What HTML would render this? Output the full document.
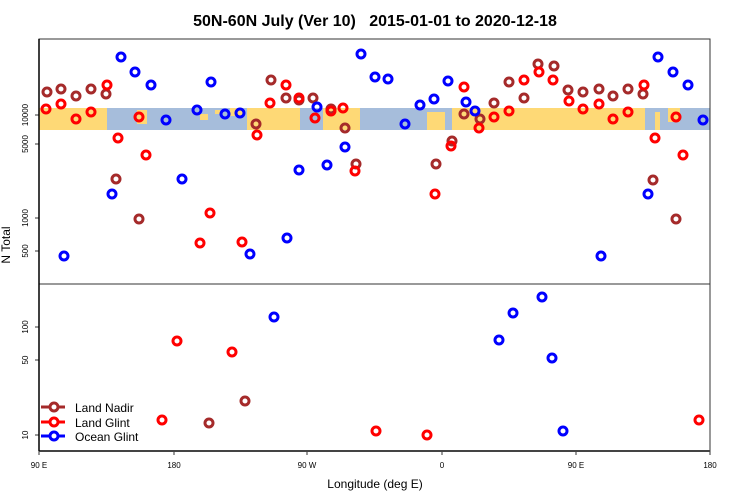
<!DOCTYPE html>
<html><head><meta charset="utf-8"><style>body{margin:0;background:#fff}svg{display:block}text{font-family:"Liberation Sans",sans-serif}</style></head>
<body>
<svg width="750" height="500" xmlns="http://www.w3.org/2000/svg">
<rect width="750" height="500" fill="#fff"/>
<text x="375" y="26" font-size="16" font-weight="bold" text-anchor="middle">50N-60N July (Ver 10)&#160;&#160; 2015-01-01 to 2020-12-18</text>
<rect x="39" y="108" width="671" height="22" fill="#a6bddb"/>
<g fill="#fed976">
<rect x="39" y="108" width="68" height="22"/>
<rect x="137" y="110" width="10" height="14"/>
<rect x="200" y="114" width="8" height="6"/><rect x="215" y="110" width="5" height="4"/><rect x="230" y="108" width="13" height="8"/>
<rect x="247" y="108" width="53" height="22"/>
<rect x="323" y="108" width="37" height="22"/>
<rect x="427" y="112" width="18" height="18"/>
<rect x="452" y="108" width="193" height="22"/>
<rect x="655" y="112" width="5" height="18"/><rect x="668" y="108" width="12" height="14"/>
</g>
<g stroke="#333" fill="none" stroke-width="1">
<rect x="39" y="39" width="671" height="412"/>
<line x1="39" y1="284" x2="710" y2="284"/>
<line x1="35" y1="115" x2="39" y2="115"/><line x1="35" y1="144" x2="39" y2="144"/><line x1="35" y1="218" x2="39" y2="218"/><line x1="35" y1="251" x2="39" y2="251"/>
<line x1="35" y1="327" x2="39" y2="327"/><line x1="35" y1="360" x2="39" y2="360"/><line x1="35" y1="435" x2="39" y2="435"/>
<line x1="39" y1="451" x2="39" y2="455"/><line x1="174" y1="451" x2="174" y2="455"/><line x1="307" y1="451" x2="307" y2="455"/><line x1="442" y1="451" x2="442" y2="455"/><line x1="576" y1="451" x2="576" y2="455"/><line x1="710" y1="451" x2="710" y2="455"/>
</g>
<line x1="39" y1="451" x2="710" y2="451" stroke="#444" stroke-width="2"/>
<line x1="39" y1="39" x2="39" y2="451" stroke="#000" stroke-width="1.5"/>
<g font-size="8" text-anchor="middle">
<text transform="translate(28,115) rotate(-90)">10000</text>
<text transform="translate(28,144) rotate(-90)">5000</text>
<text transform="translate(28,218) rotate(-90)">1000</text>
<text transform="translate(28,251) rotate(-90)">500</text>
<text transform="translate(28,327) rotate(-90)">100</text>
<text transform="translate(28,360) rotate(-90)">50</text>
<text transform="translate(28,435) rotate(-90)">10</text>
<text x="39" y="468">90 E</text><text x="174" y="468">180</text><text x="307" y="468">90 W</text><text x="442" y="468">0</text><text x="576" y="468">90 E</text><text x="710" y="468">180</text>
</g>
<text x="375" y="488" font-size="12" text-anchor="middle">Longitude (deg E)</text>
<text transform="translate(10,245) rotate(-90)" font-size="12" text-anchor="middle">N Total</text>
<g fill="none" stroke-width="3">
<g stroke="#a52a2a">
<circle cx="47" cy="92" r="4"/><circle cx="61" cy="89" r="4"/><circle cx="76" cy="96" r="4"/><circle cx="91" cy="89" r="4"/><circle cx="106" cy="94" r="4"/><circle cx="116" cy="179" r="4"/><circle cx="139" cy="219" r="4"/><circle cx="256" cy="124" r="4"/><circle cx="271" cy="80" r="4"/><circle cx="286" cy="98" r="4"/><circle cx="299" cy="100" r="4"/><circle cx="313" cy="98" r="4"/><circle cx="331" cy="109" r="4"/><circle cx="345" cy="128" r="4"/><circle cx="356" cy="164" r="4"/>
<circle cx="452" cy="141" r="4"/><circle cx="436" cy="164" r="4"/><circle cx="464" cy="114" r="4"/><circle cx="480" cy="119" r="4"/><circle cx="494" cy="103" r="4"/><circle cx="509" cy="82" r="4"/><circle cx="524" cy="98" r="4"/><circle cx="538" cy="64" r="4"/><circle cx="554" cy="66" r="4"/><circle cx="568" cy="90" r="4"/><circle cx="583" cy="92" r="4"/><circle cx="599" cy="89" r="4"/><circle cx="613" cy="96" r="4"/><circle cx="628" cy="89" r="4"/><circle cx="643" cy="94" r="4"/><circle cx="653" cy="180" r="4"/><circle cx="676" cy="219" r="4"/>
<circle cx="245" cy="401" r="4"/><circle cx="209" cy="423" r="4"/>
</g>
<g stroke="#f00">
<circle cx="46" cy="109" r="4"/><circle cx="61" cy="104" r="4"/><circle cx="76" cy="119" r="4"/><circle cx="91" cy="112" r="4"/><circle cx="107" cy="85" r="4"/><circle cx="118" cy="138" r="4"/><circle cx="139" cy="117" r="4"/><circle cx="146" cy="155" r="4"/><circle cx="210" cy="213" r="4"/><circle cx="200" cy="243" r="4"/><circle cx="242" cy="242" r="4"/><circle cx="257" cy="135" r="4"/><circle cx="270" cy="103" r="4"/><circle cx="286" cy="85" r="4"/><circle cx="299" cy="98" r="4"/><circle cx="315" cy="118" r="4"/><circle cx="331" cy="111" r="4"/><circle cx="343" cy="108" r="4"/><circle cx="355" cy="171" r="4"/>
<circle cx="451" cy="146" r="4"/><circle cx="435" cy="194" r="4"/><circle cx="464" cy="87" r="4"/><circle cx="479" cy="128" r="4"/><circle cx="494" cy="117" r="4"/><circle cx="509" cy="111" r="4"/><circle cx="524" cy="80" r="4"/><circle cx="539" cy="72" r="4"/><circle cx="553" cy="80" r="4"/><circle cx="569" cy="101" r="4"/><circle cx="583" cy="109" r="4"/><circle cx="599" cy="104" r="4"/><circle cx="613" cy="119" r="4"/><circle cx="628" cy="112" r="4"/><circle cx="644" cy="85" r="4"/><circle cx="655" cy="138" r="4"/><circle cx="676" cy="117" r="4"/><circle cx="683" cy="155" r="4"/>
<circle cx="177" cy="341" r="4"/><circle cx="232" cy="352" r="4"/><circle cx="162" cy="420" r="4"/><circle cx="376" cy="431" r="4"/><circle cx="427" cy="435" r="4"/><circle cx="699" cy="420" r="4"/>
</g>
<g stroke="#00f">
<circle cx="64" cy="256" r="4"/><circle cx="112" cy="194" r="4"/><circle cx="121" cy="57" r="4"/><circle cx="135" cy="72" r="4"/><circle cx="151" cy="85" r="4"/><circle cx="166" cy="120" r="4"/><circle cx="182" cy="179" r="4"/><circle cx="197" cy="110" r="4"/><circle cx="211" cy="82" r="4"/><circle cx="225" cy="114" r="4"/><circle cx="240" cy="113" r="4"/><circle cx="250" cy="254" r="4"/><circle cx="287" cy="238" r="4"/><circle cx="299" cy="170" r="4"/><circle cx="317" cy="107" r="4"/><circle cx="327" cy="165" r="4"/><circle cx="345" cy="147" r="4"/><circle cx="361" cy="54" r="4"/><circle cx="375" cy="77" r="4"/>
<circle cx="388" cy="79" r="4"/><circle cx="405" cy="124" r="4"/><circle cx="420" cy="105" r="4"/><circle cx="434" cy="99" r="4"/><circle cx="448" cy="81" r="4"/><circle cx="466" cy="102" r="4"/><circle cx="475" cy="111" r="4"/><circle cx="601" cy="256" r="4"/><circle cx="648" cy="194" r="4"/><circle cx="658" cy="57" r="4"/><circle cx="673" cy="72" r="4"/><circle cx="688" cy="85" r="4"/><circle cx="703" cy="120" r="4"/>
<circle cx="274" cy="317" r="4"/><circle cx="499" cy="340" r="4"/><circle cx="513" cy="313" r="4"/><circle cx="542" cy="297" r="4"/><circle cx="552" cy="358" r="4"/><circle cx="563" cy="431" r="4"/>
</g>
<line x1="41" y1="407" x2="65" y2="407" stroke="#a52a2a"/><circle cx="54" cy="407" r="4" stroke="#a52a2a" fill="#fff"/>
<line x1="41" y1="422" x2="65" y2="422" stroke="#f00"/><circle cx="54" cy="422" r="4" stroke="#f00" fill="#fff"/>
<line x1="41" y1="436" x2="65" y2="436" stroke="#00f"/><circle cx="54" cy="436" r="4" stroke="#00f" fill="#fff"/>
</g>
<g font-size="12"><text x="75" y="412">Land Nadir</text><text x="75" y="427">Land Glint</text><text x="75" y="441">Ocean Glint</text></g>
</svg>
</body></html>
